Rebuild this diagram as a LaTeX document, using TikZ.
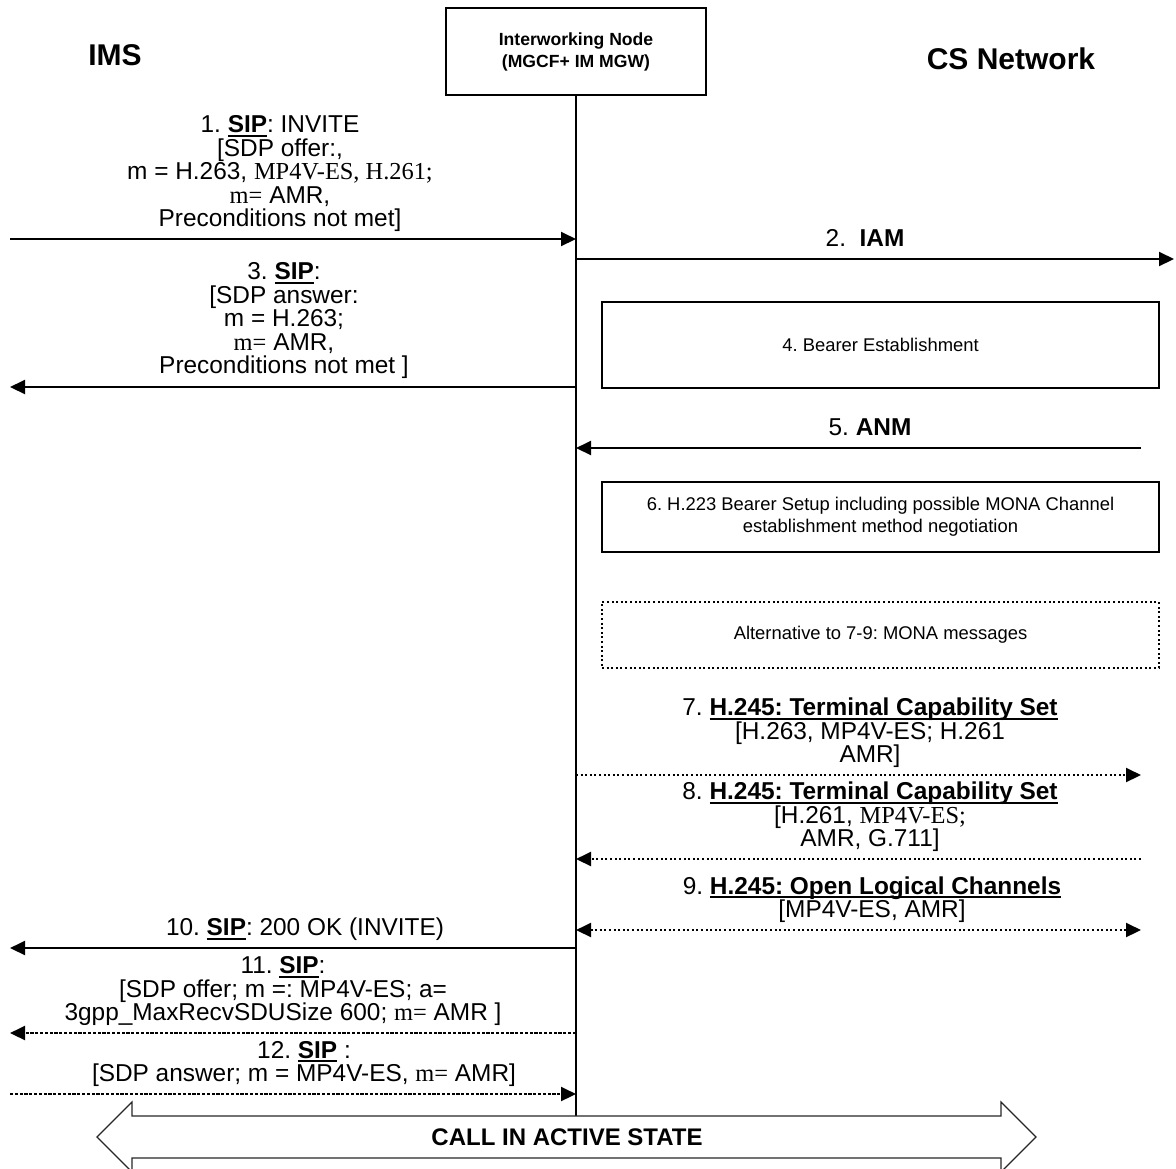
\documentclass[tikz,border=0pt]{standalone}
\usepackage{fontspec}
\setmainfont{Liberation Sans}
\newfontfamily\tms{Liberation Serif}
\usetikzlibrary{arrows.meta}
\frenchspacing

\newcommand{\uln}[1]{\leavevmode\setbox0\hbox{#1}\rlap{\vrule width\wd0 height -1.1pt depth 2pt}\box0}
\newcommand{\sipmsg}{\uln{\textbf{SIP}}}
\newcommand{\hmsg}[1]{\uln{\textbf{#1}}}

\begin{document}
\begin{tikzpicture}[x=0.5pt,y=-0.5pt,
  solidmsg/.style={line width=1pt,-{Triangle[length=7.5pt,width=7pt]}},
  dotmsg/.style={solidmsg,dash pattern=on 1pt off 1.3pt},
  dashmsg/.style={solidmsg,dash pattern=on 1.6pt off 0.8pt},
  lbl/.style={font=\fontsize{12.2}{11.75}\selectfont,align=center,inner sep=0pt,anchor=south,
    execute at begin node=\strut,execute at end node=\strut},
  notebox/.style={draw,line width=1pt,minimum width=278.5pt,inner sep=0pt,
    font=\fontsize{9.2}{11}\selectfont,align=center},
  sidelbl/.style={font=\fontsize{15}{18}\selectfont\bfseries,inner sep=0pt}]
  \clip (0,0) rectangle (1176,1168);
  % entities
  \node[sidelbl] (ims) at (115,55) {IMS};
  \node[sidelbl] (csn) at (1011,59) {CS Network};
  \node[draw,line width=1pt,minimum width=130pt,minimum height=43.5pt,align=center,
    font=\fontsize{8.8}{11}\selectfont\bfseries] (iwn) at (576,51.5)
    {Interworking Node\\(MGCF+ IM MGW)};
  \coordinate (lifeend) at (576,1116);
  \draw[line width=1pt] (iwn.south) -- (lifeend);
  % message end points
  \foreach \n/\y in {1/239,3/387,5/448,7/775,8/859,9/930,10/948,11/1033,12/1094}{
    \coordinate (ims\n) at (10,\y);
    \coordinate (iw\n) at (576,\y);
    \coordinate (cs\n) at (1141,\y);
  }
  \coordinate (iw2) at (576,259);
  \coordinate (cs2) at (1174,259);
  % 1-3
  \draw[solidmsg] (ims1) -- (iw1);
  \node[lbl] (l1) at (280,234) {1. \sipmsg: INVITE\\{[}SDP offer:,\\
    m = H.263, {\tms MP4V-ES, H.261;}\\{\tms m=} AMR,\\Preconditions not met]};
  \draw[solidmsg] (iw2) -- (cs2);
  \node[lbl] (l2) at (865,254) {2.~~\textbf{IAM}};
  \draw[solidmsg] (iw3) -- (ims3);
  \node[lbl] (l3) at (284,381) {3. \sipmsg:\\{[}SDP answer:\\m = H.263;\\
    {\tms m=} AMR,\\Preconditions not met ]};
  % 4-6
  \node[notebox,minimum height=43pt] (b4) at (880.5,345) {4. Bearer Establishment};
  \draw[solidmsg] (cs5) -- (iw5);
  \node[lbl] (l5) at (870,443) {5. \textbf{ANM}};
  \node[notebox,minimum height=35pt] (b6) at (880.5,517)
    {6. H.223 Bearer Setup including possible MONA Channel\\establishment method negotiation};
  \node[notebox,minimum height=33pt,dash pattern=on 1pt off 1.3pt] (mona) at (880.5,635)
    {Alternative to 7-9: MONA messages};
  % 7-9
  \draw[dotmsg] (iw7) -- (cs7);
  \node[lbl] (l7) at (870,770) {7. \hmsg{H.245: Terminal Capability Set}\\
    {[}H.263, MP4V-ES; H.261\\AMR]};
  \draw[dotmsg] (cs8) -- (iw8);
  \node[lbl] (l8) at (870,854) {8. \hmsg{H.245: Terminal Capability Set}\\
    {[}H.261, {\tms MP4V-ES;}\\AMR, G.711]};
  \draw[dotmsg,{Triangle[length=7.5pt,width=7pt]}-{Triangle[length=7.5pt,width=7pt]}] (iw9) -- (cs9);
  \node[lbl] (l9) at (872,925) {9. \hmsg{H.245: Open Logical Channels}\\{[}MP4V-ES, AMR]};
  % 10-12
  \draw[solidmsg] (iw10) -- (ims10);
  \node[lbl] (l10) at (305,943) {10. \sipmsg: 200 OK (INVITE)};
  \draw[dashmsg] (iw11) -- (ims11);
  \node[lbl] (l11) at (283,1028) {11. \sipmsg:\\{[}SDP offer; m =: MP4V-ES; a=\\
    3gpp\_MaxRecvSDUSize 600; {\tms m=} AMR ]};
  \draw[dashmsg] (ims12) -- (iw12);
  \node[lbl] (l12) at (304,1089) {12. \sipmsg\ :\\{[}SDP answer; m = MP4V-ES, {\tms m=} AMR]};
  % active call
  \draw[line width=0.6pt,draw=black!85] (97,1137) -- (132,1102) -- (132,1116) -- (1001,1116)
    -- (1001,1102) -- (1036,1137) -- (1001,1172) -- (1001,1158) -- (132,1158)
    -- (132,1172) -- cycle;
  \node[font=\fontsize{12}{14}\selectfont\bfseries,inner sep=0pt] (active) at (567,1137)
    {CALL IN ACTIVE STATE};
\end{tikzpicture}
\end{document}
